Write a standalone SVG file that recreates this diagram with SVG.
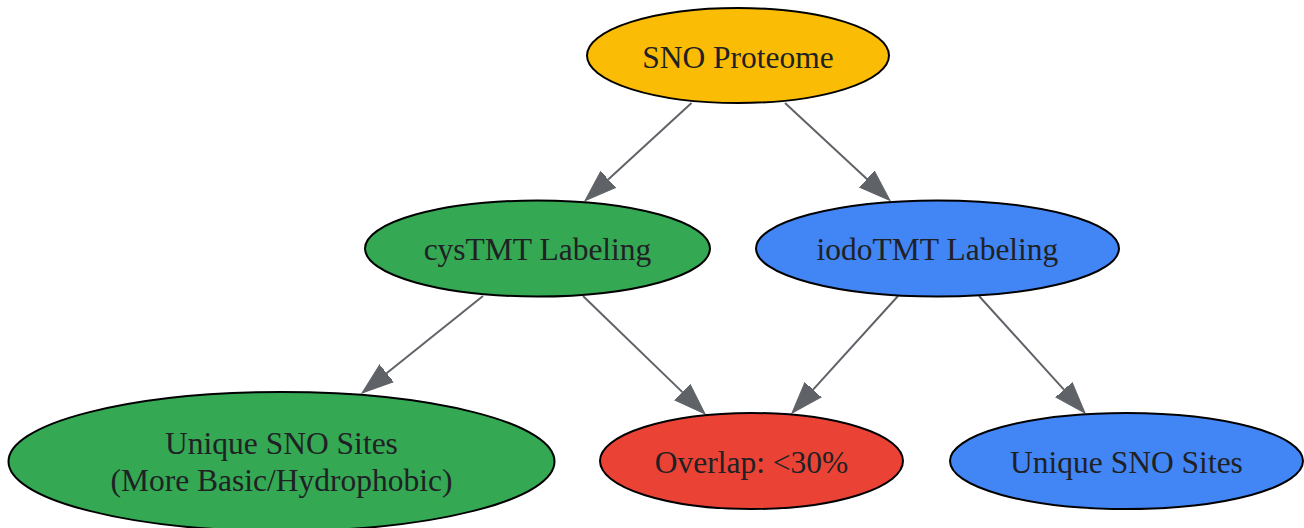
<svg xmlns="http://www.w3.org/2000/svg" width="1304" height="528" viewBox="0 0 1304 528">
<style>
.node ellipse{stroke:#000;stroke-width:2}
.node text{font-family:"Liberation Serif","Times New Roman",serif;font-size:31.5px;fill:#202124;text-anchor:middle}
.edge line{stroke:#5F6368;stroke-width:2;fill:none}
</style>
<defs>
<marker id="ah" markerUnits="userSpaceOnUse" markerWidth="34" markerHeight="24" viewBox="0 -12 34 24" refX="0" refY="0" orient="auto">
<path d="M0,-11 L31.5,0 L0,11 Z" fill="#5F6368" stroke="#5F6368" stroke-width="1"/>
</marker>
</defs>
<rect width="1304" height="528" fill="#fff"/>
<g id="edges" class="edge">
<line x1="691.5" y1="103" x2="608.2" y2="179.4" marker-end="url(#ah)"/>
<line x1="785" y1="103" x2="866.9" y2="179.1" marker-end="url(#ah)"/>
<line x1="483" y1="296" x2="386.6" y2="373.3" marker-end="url(#ah)"/>
<line x1="583" y1="296" x2="682.4" y2="392.1" marker-end="url(#ah)"/>
<line x1="898" y1="296" x2="813.1" y2="389.7" marker-end="url(#ah)"/>
<line x1="979" y1="296" x2="1063.9" y2="389.7" marker-end="url(#ah)"/>
</g>
<g id="sno" class="node">
<ellipse cx="738" cy="55.5" rx="151" ry="47.5" fill="#FBBC05"/>
<text x="738" y="67.5">SNO Proteome</text>
</g>
<g id="cys" class="node">
<ellipse cx="537.5" cy="248.5" rx="172.5" ry="48" fill="#34A853"/>
<text x="537.5" y="260">cysTMT Labeling</text>
</g>
<g id="iodo" class="node">
<ellipse cx="937.5" cy="248.5" rx="181.5" ry="48" fill="#4285F4"/>
<text x="937.5" y="260">iodoTMT Labeling</text>
</g>
<g id="uniqueCys" class="node">
<ellipse cx="281.5" cy="461.5" rx="273" ry="69.5" fill="#34A853"/>
<text x="281.5" y="453.5">Unique SNO Sites</text>
<text x="281.5" y="491.3">(More Basic/Hydrophobic)</text>
</g>
<g id="overlap" class="node">
<ellipse cx="751.5" cy="461" rx="151.5" ry="48" fill="#EA4335"/>
<text x="751.5" y="472.5">Overlap: &lt;30%</text>
</g>
<g id="uniqueIodo" class="node">
<ellipse cx="1126.5" cy="461" rx="176.5" ry="48" fill="#4285F4"/>
<text x="1126.5" y="472.5">Unique SNO Sites</text>
</g>
</svg>
